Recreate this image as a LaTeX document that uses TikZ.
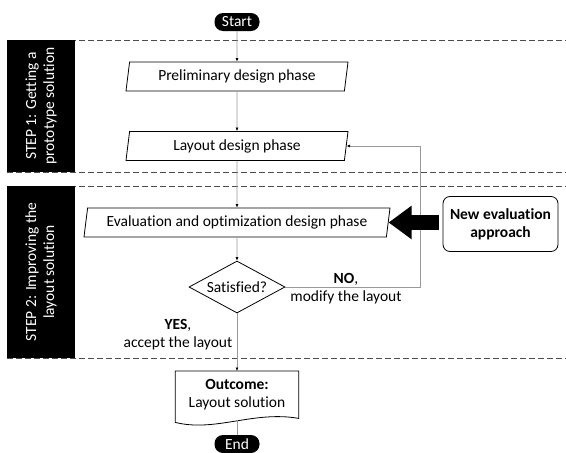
\documentclass[tikz,border=0pt]{standalone}
\usepackage{fontspec}
\setmainfont{Carlito}[Ligatures=CommonOff]
\usetikzlibrary{shapes.geometric,arrows.meta,calc}
\begin{document}
\begin{tikzpicture}[x=1pt,y=-1pt,
  every node/.style={font=\fontsize{15.5}{18}\selectfont},
  pill/.style={rectangle, rounded corners=8.5pt, fill=black, text=white, minimum width=45, minimum height=18, inner sep=0},
  para/.style={trapezium, trapezium left angle=75, trapezium right angle=105, trapezium stretches body, draw, line width=0.8pt, minimum height=29, inner sep=0},
  stepbox/.style={fill=black, text=white, rotate=90, inner sep=0, align=center, minimum height=68},
  sep/.style={draw=black!70, dash pattern=on 5.5pt off 3.5pt, line width=0.6pt},
  conn/.style={draw=black!40, line width=0.6pt, -{Latex[length=3.5pt,width=3pt,color=black]}},
  plain/.style={draw=black!40, line width=0.6pt},
  lbl/.style={align=center, inner sep=0}
]
\useasboundingbox (0,0) rectangle (566,453);
% separators
\draw[sep] (7,40) -- (566,40);
\draw[sep] (7,172) -- (566,172);
\draw[sep] (7,186) -- (566,186);
\draw[sep] (7,358) -- (566,358);
% step boxes
\node[stepbox, minimum width=132] (s1) at (41,106) {STEP 1: Getting a\\prototype solution};
\node[stepbox, minimum width=172] (s2) at (41,272) {STEP 2: Improving the\\layout solution};
% nodes
\node[pill] (start) at (237,22) {Start};
\node[para, minimum width=222] (pre) at (237,76.5) {Preliminary design phase};
\node[para, minimum width=222] (lay) at (237,146) {Layout design phase};
\node[para, minimum width=306] (eval) at (237,222.5) {Evaluation and optimization design phase};
\node[draw, line width=0.8pt, rounded corners=7pt, minimum width=115, minimum height=55, align=center, inner sep=0, font=\fontsize{15.5}{18}\selectfont\bfseries] (nea) at (500.5,224) {New evaluation\\approach};
\node[diamond, draw, line width=0.8pt, minimum width=96, minimum height=52, inner sep=0, label={center:Satisfied?}] (dec) at (237,287) {};
\node[minimum width=123, minimum height=47, inner sep=0, align=center, anchor=north] (out) at (237,371) {\textbf{Outcome:}\\Layout solution};
\draw[line width=0.8pt] ($(out.south west)+(0,4)$) -- (out.north west) -- (out.north east) -- ($(out.south east)+(0,0)$) .. controls +(-45,-8) and +(40,10) .. ($(out.south west)+(0,4)$) -- cycle;
\node[pill] (end) at (237,444) {End};
% labels
\node[lbl] (nolbl) at (346,289) {\textbf{NO},\\modify the layout};
\node[lbl] (yeslbl) at (178,335) {\textbf{YES},\\accept the layout};
% connectors
\coordinate (fb) at (420,0);
\draw[conn] (start) -- (pre);
\draw[conn] (pre) -- (lay);
\draw[conn] (lay) -- (eval);
\draw[conn] (eval) -- (dec);
\draw[conn] (dec) -- (out);
\draw[plain] ($(out.south)+(0,2)$) -- (end);
\draw[conn] (dec.east) -- (dec.east -| fb) -- (lay.east -| fb) -- (lay.east);
\draw[line width=15pt, -{Triangle[length=23pt 0 0,width=32pt 0 0]}, shorten <=4pt] (nea.west |- eval.east) -- (eval.east);
\end{tikzpicture}
\end{document}
